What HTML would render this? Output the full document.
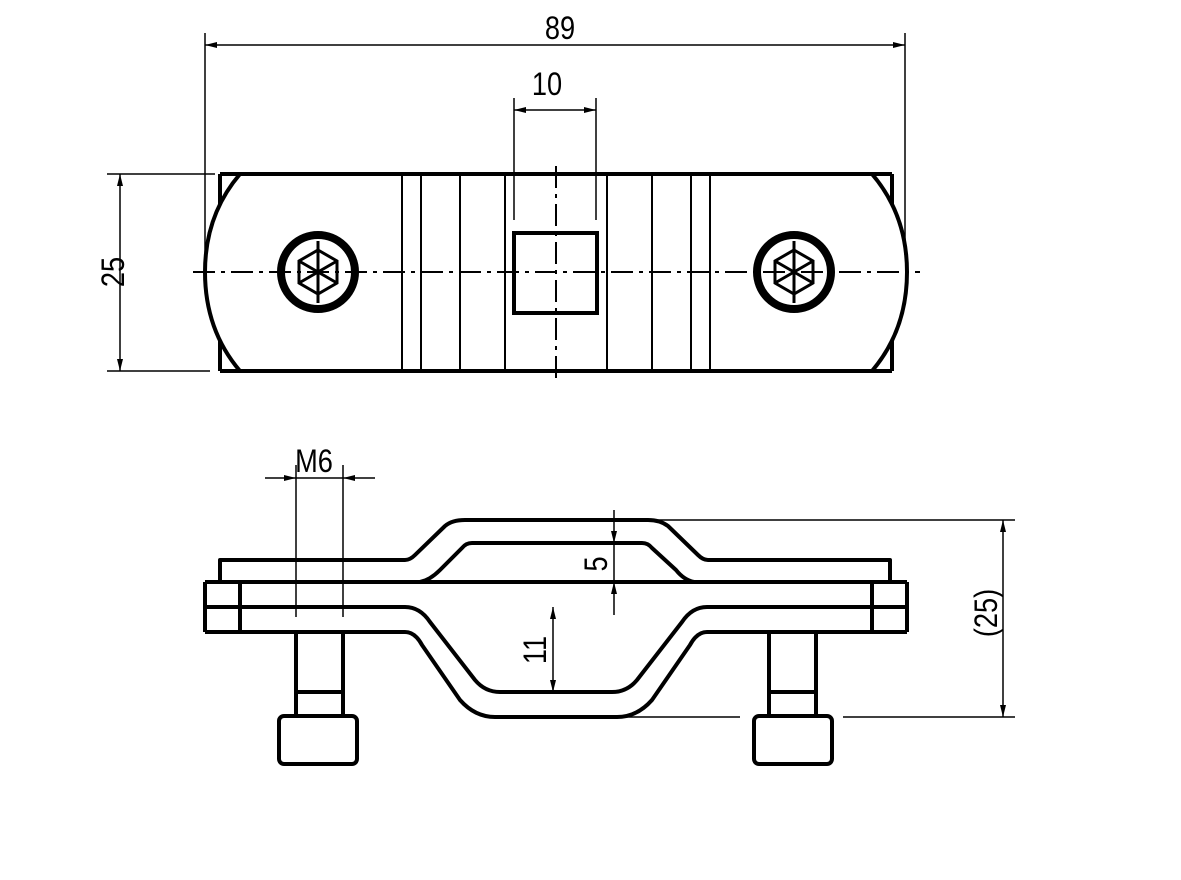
<!DOCTYPE html>
<html><head><meta charset="utf-8"><style>html,body{margin:0;padding:0;background:#fff}svg{display:block}</style></head>
<body>
<svg width="1181" height="880" viewBox="0 0 1181 880" xmlns="http://www.w3.org/2000/svg" font-family="Liberation Sans, sans-serif">
<defs>
<marker id="a" viewBox="0 0 12 6" refX="12" refY="3" markerWidth="12" markerHeight="6" orient="auto-start-reverse" markerUnits="userSpaceOnUse"><path d="M0,0 L12,3 L0,6 z" fill="#000"/></marker>
</defs>
<g stroke="#000" fill="none">
<!-- TOP VIEW -->
<g stroke-width="4">
<line x1="220" y1="174" x2="892" y2="174"/>
<line x1="220" y1="371" x2="892" y2="371"/>
<line x1="220" y1="174" x2="220" y2="205"/><line x1="220" y1="340" x2="220" y2="371"/>
<line x1="892" y1="174" x2="892" y2="205"/><line x1="892" y1="340" x2="892" y2="371"/>
<path d="M240,174 Q205,215 205,272 Q205,330 240,371"/>
<path d="M872,174 Q907,215 907,272 Q907,330 872,371"/>
<rect x="514" y="233" width="83" height="80"/>
</g>
<g stroke-width="2">
<line x1="402" y1="174" x2="402" y2="371"/><line x1="421" y1="174" x2="421" y2="371"/>
<line x1="460" y1="174" x2="460" y2="371"/><line x1="505" y1="174" x2="505" y2="371"/>
<line x1="607" y1="174" x2="607" y2="371"/><line x1="652" y1="174" x2="652" y2="371"/>
<line x1="691" y1="174" x2="691" y2="371"/><line x1="710" y1="174" x2="710" y2="371"/>
</g>
<g stroke-width="8"><circle cx="318" cy="272" r="37"/><circle cx="794" cy="272" r="37"/></g>
<g stroke-width="3">
<polygon points="318,250 337,261 337,283 318,294 299,283 299,261"/>
<polygon points="794,250 813,261 813,283 794,294 775,283 775,261"/>
<path d="M318,241 V303 M299,261 L337,283 M299,283 L337,261"/>
<path d="M794,241 V303 M775,261 L813,283 M775,283 L813,261"/>
</g>
<g stroke-width="2" stroke-dasharray="22,6,4,6">
<line x1="193" y1="272" x2="920" y2="272"/>
<line x1="556" y1="166" x2="556" y2="380"/>
</g>
<!-- top dims -->
<g stroke-width="1.5">
<line x1="205" y1="33" x2="205" y2="255"/><line x1="905" y1="33" x2="905" y2="255"/>
<line x1="205" y1="45" x2="905" y2="45" marker-start="url(#a)" marker-end="url(#a)"/>
<line x1="514" y1="98" x2="514" y2="220"/><line x1="596" y1="98" x2="596" y2="220"/>
<line x1="514" y1="110" x2="596" y2="110" marker-start="url(#a)" marker-end="url(#a)"/>
<line x1="107" y1="174" x2="215" y2="174"/><line x1="107" y1="371" x2="210" y2="371"/>
<line x1="120" y1="174" x2="120" y2="371" marker-start="url(#a)" marker-end="url(#a)"/>
</g>
<!-- SIDE VIEW -->
<g stroke-width="4" stroke-linejoin="round">
<path d="M220,582 V560 H405 Q410,560 415,555 L445,526 Q452,520 465,520 H648 Q660,520 668,526 L698,555 Q703,560 708,560 H890 V582"/>
<path d="M420,582 Q430,580 440,570 L462,548 Q466,543 472,543 H642 Q648,543 652,548 L676,570 Q684,580 694,582"/>
<line x1="205" y1="582" x2="907" y2="582"/>
<line x1="205" y1="582" x2="205" y2="632"/><line x1="907" y1="582" x2="907" y2="632"/>
<line x1="240" y1="582" x2="240" y2="632"/><line x1="872" y1="582" x2="872" y2="632"/>
<path d="M205,607 H405 Q420,607 430,622 L475,680 Q485,692 500,692 H612 Q627,692 637,680 L682,622 Q692,607 707,607 H907"/>
<path d="M205,632 H405 Q415,632 422,645 L460,700 Q475,717 495,717 H617 Q637,717 652,700 L690,645 Q697,632 707,632 H907"/>
<path d="M296,632 V716 M343,632 V716 M296,692 H343"/>
<path d="M769,632 V716 M816,632 V716 M769,692 H816"/>
<rect x="279" y="716" width="78" height="48" rx="5"/>
<rect x="754" y="716" width="78" height="48" rx="5"/>
</g>
<g stroke-width="1.5">
<line x1="296" y1="465" x2="296" y2="617"/><line x1="343" y1="465" x2="343" y2="617"/>
<line x1="265" y1="478" x2="296" y2="478" marker-end="url(#a)"/>
<line x1="375" y1="478" x2="343" y2="478" marker-end="url(#a)"/>
<line x1="296" y1="478" x2="343" y2="478"/>
<line x1="655" y1="520" x2="1015" y2="520"/>
<line x1="620" y1="717" x2="740" y2="717"/><line x1="843" y1="717" x2="1015" y2="717"/>
<line x1="1003" y1="520" x2="1003" y2="717" marker-start="url(#a)" marker-end="url(#a)"/>
<line x1="614" y1="510" x2="614" y2="543" marker-end="url(#a)"/>
<line x1="614" y1="543" x2="614" y2="582"/>
<line x1="614" y1="615" x2="614" y2="582" marker-end="url(#a)"/>
<line x1="553" y1="607" x2="553" y2="692" marker-start="url(#a)" marker-end="url(#a)"/>
</g>
</g>
<g font-size="32" fill="#000" text-anchor="middle">
<text transform="translate(560,39) scale(0.85,1)">89</text>
<text transform="translate(547,95) scale(0.85,1)">10</text>
<text transform="translate(314,472) scale(0.85,1)">M6</text>
<text transform="translate(114,272) rotate(-90) scale(0.85,1)" dy="10">25</text>
<text transform="translate(607,564) rotate(-90) scale(0.85,1)">5</text>
<text transform="translate(546,650) rotate(-90) scale(0.85,1)">11</text>
<text transform="translate(997,613) rotate(-90) scale(0.85,1)">(25)</text>
</g>
</svg>
</body></html>
